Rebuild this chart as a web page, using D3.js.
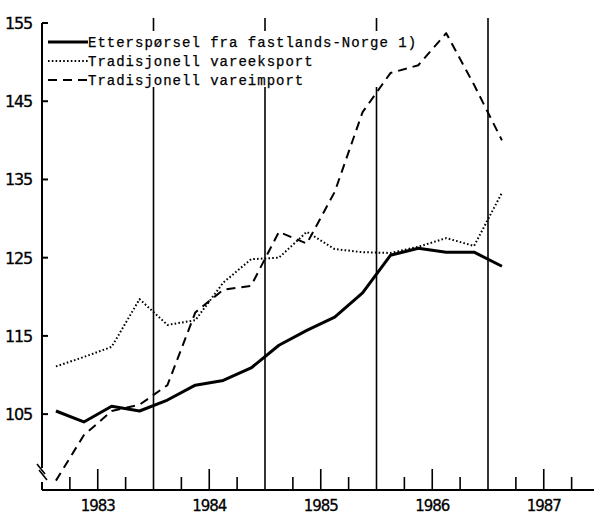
<!DOCTYPE html>
<html>
<head>
<meta charset="utf-8">
<script src="https://cdn.jsdelivr.net/npm/d3@7"></script>
<style>
  body { margin: 0; background: #fff; }
  svg { display: block; }
</style>
</head>
<body>
<div id="chart"></div>
<script>
// quarterly values, 1983 Q1 - 1987 Q1
var quarters = [1983.125, 1983.375, 1983.625, 1983.875,
                1984.125, 1984.375, 1984.625, 1984.875,
                1985.125, 1985.375, 1985.625, 1985.875,
                1986.125, 1986.375, 1986.625, 1986.875,
                1987.125];
var etterspørsel = [105.4, 104.0, 106.0, 105.4, 106.8, 108.7, 109.3, 110.9,
                    113.8, 115.7, 117.4, 120.5, 125.3, 126.2, 125.7, 125.7, 123.9];
var vareeksport = [111.1, 112.3, 113.6, 119.7, 116.4, 117.0, 121.8, 124.8,
                   125.0, 128.3, 126.1, 125.7, 125.6, 126.4, 127.5, 126.5, 133.3];
var vareimport = [96.5, 102.3, 105.4, 106.2, 108.7, 118.0, 120.9, 121.4,
                  128.3, 126.8, 133.4, 143.6, 148.6, 149.6, 153.7, 147.1, 140.0];
var years = [1983, 1984, 1985, 1986, 1987];
var yTicks = [105, 115, 125, 135, 145, 155];
var legendLabels = ["Etterspørsel fra fastlands-Norge 1)",
                    "Tradisjonell vareeksport",
                    "Tradisjonell vareimport"];

var svgWidth = 594, svgHeight = 517;
var margin = {top: 23, right: 0, bottom: 27, left: 42};
var width = svgWidth - margin.left - margin.right;
var height = svgHeight - margin.top - margin.bottom;

var svg = d3.select("#chart").append("svg")
    .attr("width", svgWidth)
    .attr("height", svgHeight);

var g = svg.append("g")
    .attr("transform", `translate(${margin.left}, ${margin.top})`);

var x = d3.scaleLinear().domain([1983, 1983 + width / 111.5]).range([0, width]);
var y = d3.scaleLinear().domain([95.3, 155]).range([height, 0]);

// year boundary lines
g.selectAll(".yearline")
  .data([1984, 1985, 1986, 1987])
  .enter().append("line")
  .attr("x1", d => x(d)).attr("x2", d => x(d))
  .attr("y1", -5).attr("y2", height)
  .attr("stroke", "#000").attr("stroke-width", 1.6);

// quarter ticks on x axis
var qticks = [];
years.forEach(function(yr) { [0.25, 0.5, 0.75].forEach(q => qticks.push(yr + q)); });
g.selectAll(".qtick")
  .data(qticks)
  .enter().append("line")
  .attr("x1", d => x(d)).attr("x2", d => x(d))
  .attr("y1", d => (d % 1 === 0.5) ? height - 21 : height - 13)
  .attr("y2", height)
  .attr("stroke", "#000").attr("stroke-width", 1.6);

// x axis line
g.append("line")
  .attr("x1", 0).attr("x2", width)
  .attr("y1", height).attr("y2", height)
  .attr("stroke", "#000").attr("stroke-width", 2.2);

// year labels
g.selectAll(".yearlabel")
  .data(years)
  .enter().append("text")
  .attr("x", d => x(d + 0.5))
  .attr("y", height + 21)
  .attr("text-anchor", "middle")
  .attr("font-family", "DejaVu Sans, sans-serif")
  .attr("font-size", "15px")
  .attr("letter-spacing", "-1.1px")
  .attr("stroke", "#000").attr("stroke-width", 0.3)
  .text(d => d);

// y axis with break
g.append("line")
  .attr("x1", 0).attr("x2", 0)
  .attr("y1", 0).attr("y2", height - 22)
  .attr("stroke", "#000").attr("stroke-width", 2);
g.append("line")
  .attr("x1", 0).attr("x2", 0)
  .attr("y1", height - 8).attr("y2", height)
  .attr("stroke", "#000").attr("stroke-width", 2);
[[-5, height - 26, 3, height - 16], [-3, height - 20, 5, height - 10]].forEach(function(p) {
  g.append("line")
    .attr("x1", p[0]).attr("y1", p[1]).attr("x2", p[2]).attr("y2", p[3])
    .attr("stroke", "#000").attr("stroke-width", 1.6);
});

g.selectAll(".ytick")
  .data(yTicks)
  .enter().append("line")
  .attr("x1", 0).attr("x2", 6)
  .attr("y1", d => y(d)).attr("y2", d => y(d))
  .attr("stroke", "#000").attr("stroke-width", 2);

g.selectAll(".ylabel")
  .data(yTicks)
  .enter().append("text")
  .attr("x", -10)
  .attr("y", d => y(d) + 6)
  .attr("text-anchor", "end")
  .attr("font-family", "DejaVu Sans, sans-serif")
  .attr("font-size", "16px")
  .attr("letter-spacing", "-1.2px")
  .attr("stroke", "#000").attr("stroke-width", 0.3)
  .text(d => d);

// legend box (covers the year lines)
var legend = g.append("g").attr("transform", "translate(4, 8)");
legend.append("rect")
  .attr("x", 0).attr("y", 0).attr("width", 380).attr("height", 56)
  .attr("fill", "#fff");

var styles = [
  {w: 3, dash: null},
  {w: 2, dash: "1.6,2.2"},
  {w: 2, dash: "9,6"}
];

legendLabels.forEach(function(lab, i) {
  var ly = 11 + i * 19;
  legend.append("line")
    .attr("x1", 2).attr("x2", 42)
    .attr("y1", ly).attr("y2", ly)
    .attr("stroke", "#000")
    .attr("stroke-width", styles[i].w)
    .attr("stroke-dasharray", styles[i].dash);
  legend.append("text")
    .attr("x", 42).attr("y", ly + 5)
    .attr("font-family", "Liberation Mono, DejaVu Sans Mono, monospace")
    .attr("font-size", "14px")
    .attr("letter-spacing", "1px")
    .attr("stroke", "#000").attr("stroke-width", 0.25)
    .text(lab);
});

// series lines
var line = d3.line()
  .x((d, i) => x(quarters[i]))
  .y(d => y(d));

[etterspørsel, vareeksport, vareimport].forEach(function(series, i) {
  g.append("path")
    .datum(series)
    .attr("d", line)
    .attr("fill", "none")
    .attr("stroke", "#000")
    .attr("stroke-width", styles[i].w)
    .attr("stroke-dasharray", styles[i].dash)
    .attr("stroke-linejoin", "round");
});
</script>
</body>
</html>
